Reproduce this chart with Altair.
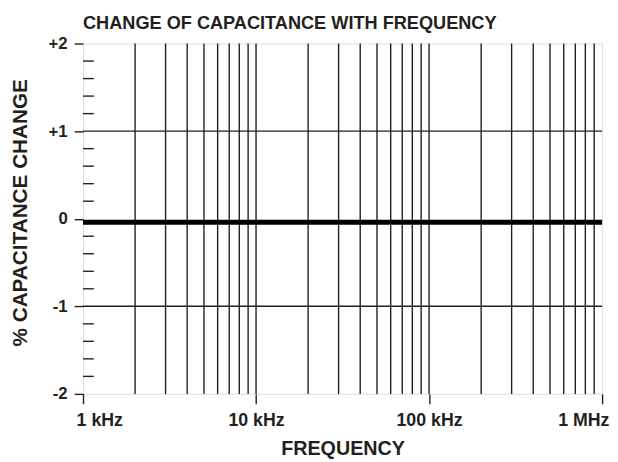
import altair as alt
import pandas as pd

# ---- data ----
title_text = "CHANGE OF CAPACITANCE WITH FREQUENCY"
x_title = "FREQUENCY"
y_title = "% CAPACITANCE CHANGE"

decade_values = [1000, 10000, 100000, 1000000]
decade_labels = ["1 kHz", "10 kHz", "100 kHz", "1 MHz"]

grid_freqs = [2000, 3000, 4000, 5000, 6000, 7000, 8000, 9000,
              10000, 20000, 30000, 40000, 50000, 60000, 70000, 80000, 90000,
              100000, 200000, 300000, 400000, 500000, 600000, 700000, 800000, 900000]

y_values = [-2, -1, 0, 1, 2]
y_labels = ["-2", "-1", "0", "+1", "+2"]
y_grid = [-1, 1]
y_minor = [-1.8, -1.6, -1.4, -1.2, -0.8, -0.6, -0.4, -0.2,
           0.2, 0.4, 0.6, 0.8, 1.2, 1.4, 1.6, 1.8]

curve_freq = [1000, 1000000]
curve_change = [-0.04, -0.04]

# ---- styling ----
INK = "#231f20"
FONT = "Liberation Sans"

def label_expr(values, labels):
    expr = "''"
    for v, l in reversed(list(zip(values, labels))):
        expr = f"datum.value == {v} ? '{l}' : {expr}"
    return expr

x_scale = alt.Scale(type="log", domain=[1000, 1000000], nice=False)
y_scale = alt.Scale(domain=[-2, 2], nice=False, zero=False)

x_axis = alt.Axis(values=decade_values, labelExpr=label_expr(decade_values, decade_labels),
                  grid=False, domain=False, tickSize=10, tickColor=INK, tickWidth=1.4,
                  labelFont=FONT, labelFontSize=18, labelFontWeight="bold", labelColor=INK,
                  labelPadding=8, labelFlush=True, labelFlushOffset=7,
                  title=x_title, titleFont=FONT, titleFontSize=20, titleFontWeight="bold",
                  titleColor=INK, titleBaseline="alphabetic", titleY=61)
y_axis = alt.Axis(values=y_values, labelExpr=label_expr(y_values, y_labels),
                  grid=False, domain=False, tickSize=9, tickColor=INK, tickWidth=1.4,
                  labelFont=FONT, labelFontSize=17, labelFontWeight="bold", labelColor=INK,
                  labelPadding=7,
                  title=y_title, titleFont=FONT, titleFontSize=21, titleFontWeight="bold",
                  titleColor=INK, titleBaseline="alphabetic", titleAngle=270,
                  titleX=-57, titleY=171, titleAlign="center")

X = alt.X("freq:Q", scale=x_scale, axis=x_axis)
Y = alt.Y("change:Q", scale=y_scale, axis=y_axis)

vgrid = alt.Chart(pd.DataFrame({"freq": grid_freqs})).mark_rule(
    color=INK, strokeWidth=1.4).encode(x=X)

hgrid = alt.Chart(pd.DataFrame({"change": y_grid})).mark_rule(
    color=INK, strokeWidth=1.4).encode(y=Y)

minor = alt.Chart(pd.DataFrame({"change": y_minor})).mark_rule(
    color=INK, strokeWidth=1.4).encode(y=Y, x=alt.value(0), x2=alt.value(11))

curve = alt.Chart(pd.DataFrame({"freq": curve_freq, "change": curve_change})).mark_line(
    color="#000000", strokeWidth=5, strokeCap="butt").encode(x=X, y=Y)

chart = alt.layer(vgrid, hgrid, minor, curve).properties(
    width=526, height=355,
    autosize=alt.AutoSizeParams(type="none"),
    padding={"left": 76, "top": 33, "right": 8, "bottom": 66},
    title=alt.TitleParams(title_text, anchor="start", frame="group", dx=0,
                          font=FONT, fontSize=18.4, fontWeight="bold", color=INK,
                          offset=2),
).configure_view(stroke=INK, strokeWidth=1.4).configure(background="white")

chart.save("out.html", embed_options={"renderer": "svg", "actions": False})
